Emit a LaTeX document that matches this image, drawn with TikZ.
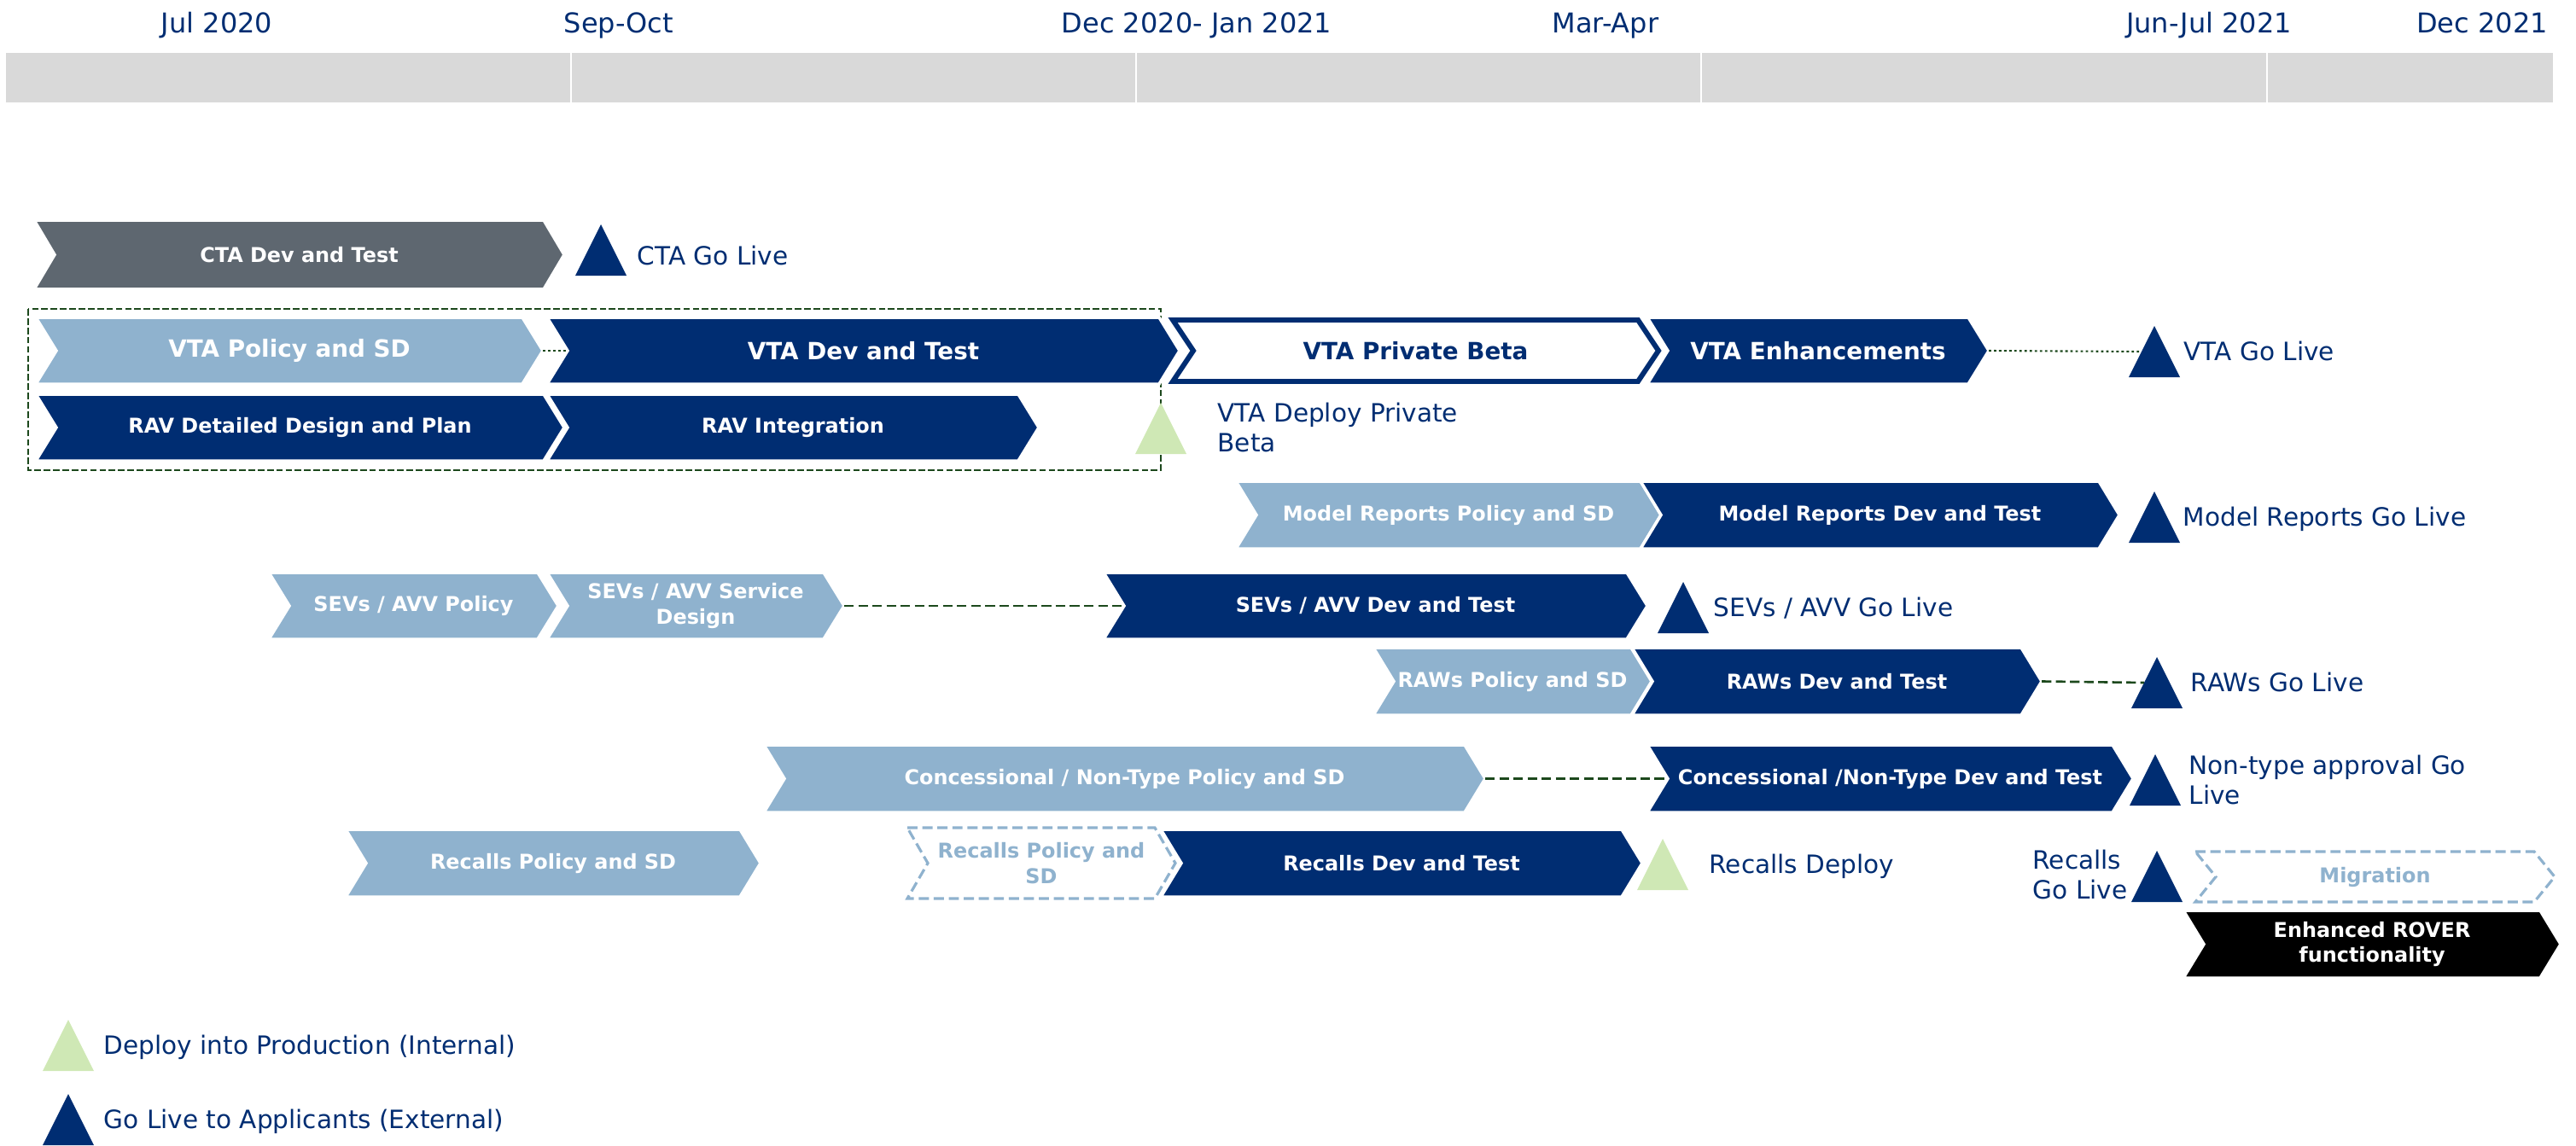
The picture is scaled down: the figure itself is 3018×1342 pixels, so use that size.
\documentclass[tikz,border=0pt]{standalone}
\usepackage{fontspec}
\setmainfont{DejaVu Sans}

\definecolor{navy}{RGB}{0,45,114}
\definecolor{paleblue}{RGB}{143,178,206}
\definecolor{slate}{RGB}{94,103,112}
\definecolor{paleg}{RGB}{207,232,181}
\definecolor{headgrey}{RGB}{217,217,217}
\definecolor{darkgreen}{RGB}{28,72,28}

\tikzset{
  navyphase/.style={fill=navy, draw=white, line width=1pt},
  lightphase/.style={fill=paleblue, draw=white, line width=1pt},
  greyphase/.style={fill=slate, draw=white, line width=1pt},
  roverphase/.style={fill=black, draw=white, line width=1pt},
  betaphase/.style={fill=white, draw=navy, line width=1.7pt},
  dashphase/.style={fill=white, draw=paleblue, line width=0.9pt, dash pattern=on 3.4pt off 1.6pt},
  phasetext/.style={font=\fontsize{6.8}{8.3}\selectfont\bfseries, text=white, align=center, inner sep=0pt},
  bigtext/.style={phasetext, font=\fontsize{7.9}{9.5}\selectfont\bfseries},
  betatext/.style={bigtext, text=navy},
  dashtext/.style={phasetext, text=paleblue},
  mslabel/.style={font=\fontsize{8.4}{10}\selectfont, text=navy, inner sep=0pt, align=left},
  headlabel/.style={font=\fontsize{9.1}{11}\selectfont, text=navy, inner sep=0pt, anchor=base},
  dashlink/.style={draw=darkgreen, line width=0.75pt, dash pattern=on 3.2pt off 1.5pt},
  dotlink/.style={draw=darkgreen, line width=0.6pt, dash pattern=on 0.8pt off 0.9pt},
  groupbox/.style={draw=darkgreen, line width=0.6pt, dash pattern=on 2.2pt off 0.9pt}
}

% \phase{name}{shape style}{text style}{left}{tip}{top}{bottom}{text}
\newcommand{\phase}[8]{%
  \path[#2] (#4,#6) -- (#5-24,#6) -- (#5,{(#6+#7)/2}) -- (#5-24,#7) -- (#4,#7) -- (#4+24,{(#6+#7)/2}) -- cycle;
  \coordinate (#1-in) at (#4+24,{(#6+#7)/2});
  \coordinate (#1-out) at (#5,{(#6+#7)/2});
  \node[#3] (#1) at ({(#4+#5)/2},{(#6+#7)/2}) {#8};
}
% \milestone{name}{colour}{left}{top}
\newcommand{\milestone}[4]{%
  \fill[#2] (#3,#4+60) -- (#3+30,#4) -- (#3+60,#4+60) -- cycle;
  \coordinate (#1) at (#3+15,#4+30);
}

\begin{document}
\begin{tikzpicture}[x=0.01cm, y=-0.01cm]
\useasboundingbox (0,0) rectangle (3018,1342);

% time line
\fill[headgrey] (7,62) rectangle (668,120);
\fill[headgrey] (670,62) rectangle (1330,120);
\fill[headgrey] (1332,62) rectangle (1992,120);
\fill[headgrey] (1994,62) rectangle (2655,120);
\fill[headgrey] (2657,62) rectangle (2991,120);
\node[headlabel] (jul) at (254,38) {Jul 2020};
\node[headlabel] (sep) at (725,38) {Sep-Oct};
\node[headlabel] (dec) at (1402,38) {Dec 2020- Jan 2021};
\node[headlabel] (mar) at (1881,38) {Mar-Apr};
\node[headlabel] (jun) at (2588,38) {Jun-Jul 2021};
\node[headlabel] (dec21) at (2908,38) {Dec 2021};

% CTA
\phase{cta}{greyphase}{phasetext}{40}{661}{258}{339}{CTA Dev and Test}
\milestone{ctalive}{navy}{674}{263}
\node[mslabel, anchor=base west] (ctalbl) at (746,310) {CTA Go Live};

% VTA and RAV
\draw[groupbox] (33,362) rectangle (1360,551);
\phase{vtapol}{lightphase}{bigtext}{42}{636}{372}{450}{VTA Policy and SD}
\phase{vtadev}{navyphase}{bigtext}{641}{1382}{372}{450}{VTA Dev and Test}
\draw[dotlink] (vtapol-out) -- (vtadev-in);
\phase{vtabeta}{betaphase}{betatext}{1374}{1943}{375}{447}{VTA Private Beta}
\phase{vtaenh}{navyphase}{bigtext}{1930}{2330}{372}{450}{VTA Enhancements}
\milestone{vtalive}{navy}{2494}{382}
\draw[dotlink] (vtaenh-out) -- (vtalive);
\node[mslabel, anchor=base west] (vtalbl) at (2558,422) {VTA Go Live};
\phase{ravdd}{navyphase}{phasetext}{42}{661}{462}{540}{RAV Detailed Design and Plan}
\phase{ravint}{navyphase}{phasetext}{641}{1217}{462}{540}{RAV Integration}
\milestone{vtadeploy}{paleg}{1330}{472}
\node[mslabel, anchor=west] (vtadeplbl) at (1426,501) {VTA Deploy Private\\Beta};

% Model Reports
\phase{mrpol}{lightphase}{phasetext}{1448}{1946}{564}{643}{Model Reports Policy and SD}
\phase{mrdev}{navyphase}{phasetext}{1922}{2483}{564}{643}{Model Reports Dev and Test}
\milestone{mrlive}{navy}{2494}{576}
\node[mslabel, anchor=base west] (mrlbl) at (2557,616) {Model Reports Go Live};

% SEVs / AVV
\phase{sevpol}{lightphase}{phasetext}{315}{654}{671}{749}{SEVs / AVV Policy}
\phase{sevsd}{lightphase}{phasetext}{641}{989}{671}{749}{SEVs / AVV Service\\Design}
\phase{sevdev}{navyphase}{phasetext}{1293}{1930}{671}{749}{SEVs / AVV Dev and Test}
\draw[dashlink] (sevsd-out) -- (sevdev-in);
\milestone{sevlive}{navy}{1942}{682}
\node[mslabel, anchor=base west] (sevlbl) at (2007,722) {SEVs / AVV Go Live};

% RAWs
\phase{rawpol}{lightphase}{phasetext}{1609}{1935}{759}{838}{RAWs Policy and SD}
\phase{rawdev}{navyphase}{phasetext}{1912}{2392}{759}{838}{RAWs Dev and Test}
\milestone{rawlive}{navy}{2497}{770}
\draw[dashlink] (rawdev-out) -- (rawlive);
\node[mslabel, anchor=base west] (rawlbl) at (2566,810) {RAWs Go Live};

% Concessional / Non-Type
\phase{conpol}{lightphase}{phasetext}{895}{1740}{873}{952}{Concessional / Non-Type Policy and SD}
\phase{condev}{navyphase}{phasetext}{1930}{2499}{873}{952}{Concessional /Non-Type Dev and Test}
\draw[dashlink] (conpol-out) -- (condev-in);
\milestone{conlive}{navy}{2495}{884}
\node[mslabel, anchor=west] (conlbl) at (2564,914) {Non-type approval Go\\Live};

% Recalls
\phase{recpol}{lightphase}{phasetext}{405}{891}{972}{1051}{Recalls Policy and SD}
\phase{recpold}{dashphase}{dashtext}{1063}{1377}{970}{1053}{Recalls Policy and\\SD}
\phase{recdev}{navyphase}{phasetext}{1360}{1924}{972}{1051}{Recalls Dev and Test}
\milestone{recdeploy}{paleg}{1918}{983}
\node[mslabel, anchor=base west] (recdeplbl) at (2002,1023) {Recalls Deploy};
\node[mslabel, anchor=west] (reclivelbl) at (2381,1025) {Recalls\\Go Live};
\milestone{reclive}{navy}{2497}{997}
\phase{migr}{dashphase}{dashtext}{2572}{2993}{998}{1057}{Migration}
\phase{rover}{roverphase}{phasetext}{2558}{3000}{1067}{1146}{Enhanced ROVER\\functionality}

% legend
\milestone{keydeploy}{paleg}{50}{1195}
\node[mslabel, anchor=base west] (keydeplbl) at (121,1235) {Deploy into Production (Internal)};
\milestone{keylive}{navy}{50}{1282}
\node[mslabel, anchor=base west] (keylivelbl) at (121,1322) {Go Live to Applicants (External)};
\end{tikzpicture}
\end{document}
